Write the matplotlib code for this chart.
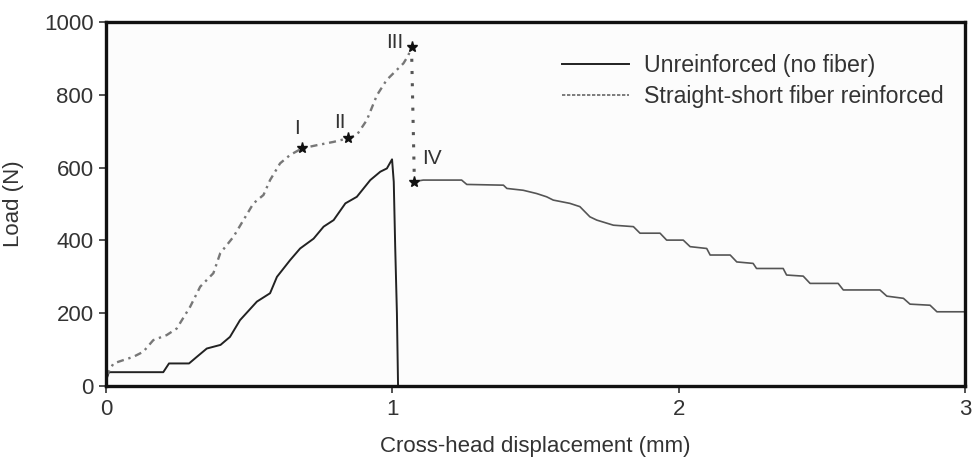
import matplotlib.pyplot as plt

plt.rcParams['font.family'] = ['Liberation Sans', 'DejaVu Sans']

# Unreinforced (no fiber)
unr_x = [0.0, 0.01, 0.2, 0.22, 0.29, 0.317, 0.352, 0.40, 0.433, 0.468, 0.527, 0.573,
         0.597, 0.643, 0.678, 0.725, 0.76, 0.795, 0.836, 0.876, 0.923, 0.958, 0.981,
         0.999, 1.005, 1.01, 1.016, 1.02]
unr_y = [15, 38, 38, 62, 62, 80, 103, 113, 135, 181, 232, 255,
         300, 346, 378, 405, 438, 456, 502, 520, 566, 589, 598,
         623, 561, 383, 200, 0]

# Straight-short fiber reinforced: loading branch up to III
rf_x = [0.0, 0.026, 0.06, 0.095, 0.13, 0.165, 0.212, 0.247, 0.265, 0.294, 0.329,
        0.375, 0.399, 0.445, 0.48, 0.515, 0.55, 0.573, 0.608, 0.643, 0.684,
        0.737, 0.795, 0.846, 0.876, 0.911, 0.946, 0.98, 1.039, 1.056, 1.067]
rf_y = [26, 62, 71, 80, 94, 126, 140, 158, 181, 218, 273,
        310, 365, 410, 456, 502, 525, 566, 612, 635, 653,
        662, 671, 681, 690, 731, 799, 841, 887, 909, 933]

# drop III -> IV
drop_x = [1.067, 1.077]
drop_y = [933, 562]

# post-peak branch after IV
tail_x = [1.077, 1.108, 1.242, 1.26, 1.388, 1.4, 1.457, 1.504, 1.539, 1.562, 1.62,
          1.655, 1.69, 1.714, 1.772, 1.842, 1.865, 1.935, 1.958, 2.016, 2.04,
          2.098, 2.11, 2.18, 2.203, 2.26, 2.272, 2.365, 2.377, 2.435, 2.459,
          2.557, 2.575, 2.703, 2.727, 2.785, 2.808, 2.878, 2.902, 2.995]
tail_y = [562, 566, 566, 554, 552, 543, 538, 529, 520, 511, 502,
          493, 465, 456, 442, 438, 420, 420, 401, 401, 383,
          378, 360, 360, 341, 337, 323, 323, 305, 302, 282,
          282, 264, 264, 247, 241, 225, 222, 204, 204]

# marked points
pt_labels = ['I', 'II', 'III', 'IV']
pt_x = [0.684, 0.846, 1.067, 1.077]
pt_y = [653, 681, 933, 562]

fig = plt.figure(figsize=(9.77, 4.62), dpi=100)
ax = fig.add_axes([0.1085, 0.1645, 0.8792, 0.7875])

txt = '#333333'
ax.plot(unr_x, unr_y, color='#222222', lw=1.4)
ax.plot(rf_x, rf_y, color='#777777', lw=1.7, ls=(0, (3, 2, 1, 2)))
ax.plot(drop_x, drop_y, color='#555555', lw=2.2, ls=(0, (1, 3)))
ax.plot(tail_x, tail_y, color='#555555', lw=1.2)
ax.plot(pt_x, pt_y, ls='none', marker='*', ms=8, color='#111111')

# label offsets (data units) from each marked point
offs = [(-0.017, 56), (-0.029, 44), (-0.058, 12), (0.062, 64)]
for lab, x, y, (dx, dy) in zip(pt_labels, pt_x, pt_y, offs):
    ax.text(x + dx, y + dy, lab, fontsize=15, color=txt, ha='center', va='center')

# legend drawn as proxy lines
ax.plot([], [], color='#222222', lw=1.4, label='Unreinforced (no fiber)')
ax.plot([], [], color='#666666', lw=1.2, ls=(0, (2, 1)), label='Straight-short fiber reinforced')
handles, labels = ax.get_legend_handles_labels()
ax.legend(handles[-2:], labels[-2:], loc='upper right', bbox_to_anchor=(1.0, 0.97),
          frameon=False, fontsize=16.7, handlelength=2.9, handletextpad=0.65,
          labelspacing=0.35, labelcolor=txt)

ax.set_xlim(0, 3)
ax.set_ylim(0, 1000)
ax.set_xticks([0, 1, 2, 3])
ax.set_yticks([0, 200, 400, 600, 800, 1000])
ax.tick_params(labelsize=16, colors=txt, length=5, width=1.2, pad=4)
for s in ax.spines.values():
    s.set_linewidth(2.4)
    s.set_color('#111111')
ax.set_facecolor('#fcfcfc')

ax.set_xlabel('Cross-head displacement (mm)', fontsize=16, color=txt, labelpad=12)
ax.set_ylabel('Load (N)', fontsize=16, color=txt, labelpad=14)

fig.savefig('out.png', dpi=100)
